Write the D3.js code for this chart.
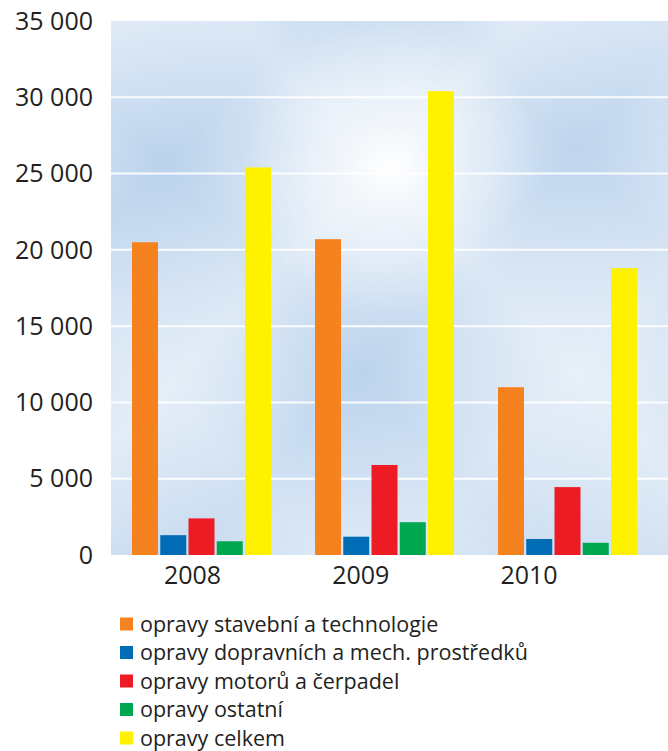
<!DOCTYPE html>
<html><head><meta charset="utf-8">
<script src="https://cdn.jsdelivr.net/npm/d3@7"></script>
<style>body{margin:0;background:#fff}svg{display:block}</style>
</head><body>
<script>
const years = ["2008","2009","2010"];
const seriesNames = ["opravy stavební a technologie","opravy dopravních a mech. prostředků","opravy motorů a čerpadel","opravy ostatní","opravy celkem"];
const seriesColors = ["#f6821f","#006cb6","#ed1c24","#00a650","#fff200"];
const stavebni = [20500, 20700, 11000];
const dopravni = [1300, 1200, 1050];
const motoru = [2400, 5900, 4450];
const ostatni = [900, 2150, 800];
const celkem = [25400, 30400, 18800];
const yTicks = [0,5000,10000,15000,20000,25000,30000,35000];
const seriesValues = [stavebni, dopravni, motoru, ostatni, celkem];

const W=668,H=751;
const svg=d3.select("body").append("svg").attr("width",W).attr("height",H);
const L=111,R=668,T=21,B=555;
const y=d3.scaleLinear().domain([0,35000]).range([B,T]);
const x0=d3.scaleBand().domain(years).range([110,659]);
const x1=d3.scaleBand().domain(seriesNames).range([0,139]).paddingInner(0.08);
const xl=d3.scalePoint().domain(years).range([192.5,529]);

const defs=svg.append("defs");
const g1=defs.append("linearGradient").attr("id","g1").attr("gradientUnits","userSpaceOnUse")
 .attr("x1",L).attr("y1",T).attr("x2",R).attr("y2",B);
[[0,0.5],[0.18,0.05],[0.38,0.5],[0.55,0.08],[0.75,0.45],[1,0.2]].forEach(s=>g1.append("stop").attr("offset",s[0]).attr("stop-color","#fff").attr("stop-opacity",s[1]));
const g2=defs.append("linearGradient").attr("id","g2").attr("gradientUnits","userSpaceOnUse")
 .attr("x1",R).attr("y1",T).attr("x2",L).attr("y2",B);
[[0,0.4],[0.2,0.08],[0.4,0.45],[0.6,0.05],[0.8,0.35],[1,0.15]].forEach(s=>g2.append("stop").attr("offset",s[0]).attr("stop-color","#fff").attr("stop-opacity",s[1]));
const rg=defs.append("radialGradient").attr("id","rg").attr("gradientUnits","userSpaceOnUse")
 .attr("cx",392).attr("cy",168).attr("r",150);
[[0,0.95],[0.3,0.5],[1,0]].forEach(s=>rg.append("stop").attr("offset",s[0]).attr("stop-color","#fff").attr("stop-opacity",s[1]));

svg.append("rect").attr("x",L).attr("y",T).attr("width",R-L).attr("height",B-T).attr("fill","#b2cdea");
svg.append("rect").attr("x",L).attr("y",T).attr("width",R-L).attr("height",B-T).attr("fill","url(#g1)");
svg.append("rect").attr("x",L).attr("y",T).attr("width",R-L).attr("height",B-T).attr("fill","url(#g2)");
svg.append("rect").attr("x",L).attr("y",T).attr("width",R-L).attr("height",B-T).attr("fill","url(#rg)");

// grid
svg.append("g").selectAll("line").data(yTicks.filter(d=>d>0&&d<35000)).join("line")
 .attr("x1",L).attr("x2",R).attr("y1",d=>y(d)).attr("y2",d=>y(d))
 .attr("stroke","#fff").attr("stroke-width",2).attr("stroke-opacity",0.9);

const font="'Open Sans', sans-serif";
// y axis labels
const fmt=d=>d3.format(",")(d).replace(/,/g," ");
svg.append("g").selectAll("text").data(yTicks).join("text")
 .attr("x",93).attr("y",d=>y(d)).attr("dy","0.35em").attr("text-anchor","end")
 .attr("font-family",font).attr("font-size",25).attr("fill","#231f20").text(fmt);

// bars
const groups=svg.append("g").selectAll("g").data(years).join("g")
 .attr("transform",d=>`translate(${x0(d)+(x0.bandwidth()-139)/2},0)`);
groups.selectAll("rect").data((d,i)=>seriesNames.map((s,j)=>({s,v:seriesValues[j][i],c:seriesColors[j]}))).join("rect")
 .attr("x",d=>x1(d.s)).attr("width",x1.bandwidth())
 .attr("y",d=>y(d.v)).attr("height",d=>y(0)-y(d.v)).attr("fill",d=>d.c);

// x labels
svg.append("g").selectAll("text").data(years).join("text")
 .attr("x",d=>xl(d)).attr("y",584).attr("text-anchor","middle")
 .attr("font-family",font).attr("font-size",25).attr("fill","#231f20").text(d=>d);

// legend
const lg=svg.append("g").selectAll("g").data(seriesNames).join("g")
 .attr("transform",(d,i)=>`translate(120,${624+i*28.5})`);
lg.append("rect").attr("x",0).attr("y",-6.5).attr("width",13).attr("height",13).attr("fill",(d,i)=>seriesColors[i]);
lg.append("text").attr("x",20).attr("y",0).attr("dy","0.35em")
 .attr("font-family",font).attr("font-size",21.5).attr("fill","#231f20").text(d=>d);
</script>
</body></html>
